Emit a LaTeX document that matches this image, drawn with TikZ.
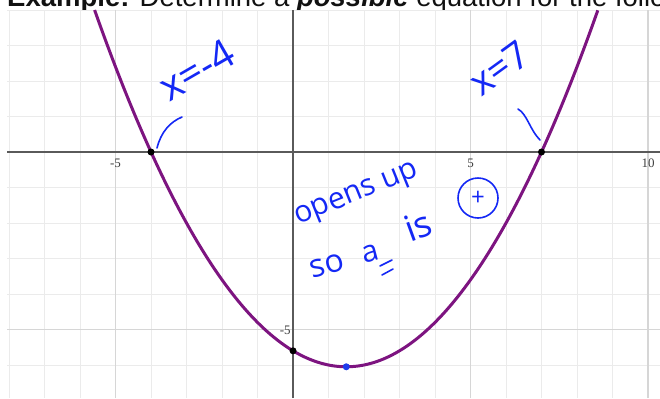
\documentclass[tikz,border=0pt]{standalone}
\usepackage{fontspec}
\setmainfont{Liberation Sans}
\newfontfamily\hand{Open Sans}
\newfontfamily\tickfont{Liberation Serif}
\definecolor{gridminor}{RGB}{235,235,235}
\definecolor{gridmajor}{RGB}{214,214,214}
\definecolor{axiscol}{RGB}{90,90,90}
\definecolor{curvecol}{RGB}{125,20,128}
\definecolor{inkblue}{RGB}{20,40,245}
\definecolor{vertexblue}{RGB}{30,60,235}
\definecolor{titlecol}{RGB}{17,17,17}
\tikzset{
  minorline/.style={draw=gridminor, line width=1pt},
  majorline/.style={draw=gridmajor, line width=1.2pt},
  axisline/.style={draw=axiscol, line width=1.5pt},
  curveline/.style={draw=curvecol, line width=3pt},
  dotmark/.style={circle, fill=black, inner sep=0pt, minimum size=7pt},
  vertexmark/.style={circle, fill=vertexblue, inner sep=0pt, minimum size=7pt},
  ticklabel/.style={font=\tickfont\fontsize{13}{14}\selectfont, text=black!75, inner sep=1pt},
  ink/.style={text=inkblue, inner sep=0pt, font=\hand\fontsize{#1}{#1}\selectfont},
  inkstroke/.style={draw=inkblue, line width=1.6pt, line cap=round, line join=round}
}
\begin{document}
\begin{tikzpicture}[x=35.5pt,y=35.5pt]
\useasboundingbox (-8.254,-6.930) rectangle (10.338,4.282);
\fill[white] (-8.254,-6.930) rectangle (10.338,4.282);
% title line (cropped at the top)
\node[anchor=base west, inner sep=0pt, text=titlecol,
      font=\fontsize{27.5}{30}\selectfont] (title) at (-8.056,4.11)
  {\textbf{Example:} Determine a \textbf{\textit{possible}} equation for the following};
% grid area
\fill[white] (-8.056,-6.930) rectangle (10.338,4.0);
\foreach \i in {-8,...,10} \draw[minorline] (\i,-6.930) -- (\i,4.0);
\foreach \j in {-6,...,4} \draw[minorline] (-8.056,\j) -- (10.338,\j);
\foreach \i in {-5,5,10} \draw[majorline] (\i,-6.930) -- (\i,4.0);
\draw[majorline] (-8.056,-5) -- (10.338,-5);
\draw[axisline] (0,-6.930) -- (0,4.0);
\draw[axisline] (-8.056,0) -- (10.338,0);
% tick labels
\node[ticklabel] (tm5) at (-5,-0.31) {-5};
\node[ticklabel] (t5) at (5,-0.31) {5};
\node[ticklabel] (t10) at (10,-0.31) {10};
\node[ticklabel, anchor=east] (ym5) at (-0.03,-5.03) {-5};
% parabola
\draw[curveline] plot[domain=-5.5887:8.5887, samples=200, smooth] (\x,{0.2*(\x+4)*(\x-7)});
% points
\node[dotmark] (r1) at (-4,0) {};
\node[dotmark] (r2) at (7,0) {};
\node[dotmark] (yint) at (0,-5.6) {};
\node[vertexmark] (vtx) at (1.5,-6.05) {};
% handwriting
\node[ink=40, rotate=30] (hx4) at ({(197-293)/35.5},{(152-70)/35.5}) {x=-4};
\node[ink=38, rotate=36] (hx7) at ({(499-293)/35.5},{(152-68)/35.5}) {x=7};
\node[ink=30, rotate=22] (hopens) at ({(357-293)/35.5},{(152-196)/35.5}) {opens up};
\node[ink=32, rotate=15] (hso) at ({(327-293)/35.5},{(152-266)/35.5}) {so};
\node[ink=30, rotate=15] (ha) at ({(370-293)/35.5},{(152-254)/35.5}) {a};
\node[ink=36, rotate=20] (his) at ({(418-293)/35.5},{(152-226)/35.5}) {is};
\node[ink=24, circle, draw=inkblue, line width=1.6pt, minimum size=40pt] (hplus)
  at ({(478-293)/35.5},{(152-198)/35.5}) {+};
% hand strokes
\draw[inkstroke] ({(157-293)/35.5},{(152-148)/35.5}) .. controls ({(161-293)/35.5},{(152-132)/35.5}) and ({(170-293)/35.5},{(152-122)/35.5}) .. ({(182-293)/35.5},{(152-117)/35.5});
\draw[inkstroke] ({(518-293)/35.5},{(152-109)/35.5}) .. controls ({(527-293)/35.5},{(152-114)/35.5}) and ({(530-293)/35.5},{(152-130)/35.5}) .. ({(540-293)/35.5},{(152-140)/35.5});
\draw[inkstroke] ({(380-293)/35.5},{(152-266)/35.5}) -- ({(392-293)/35.5},{(152-260)/35.5});
\draw[inkstroke] ({(382-293)/35.5},{(152-275)/35.5}) -- ({(393-293)/35.5},{(152-269)/35.5});
\end{tikzpicture}
\end{document}
